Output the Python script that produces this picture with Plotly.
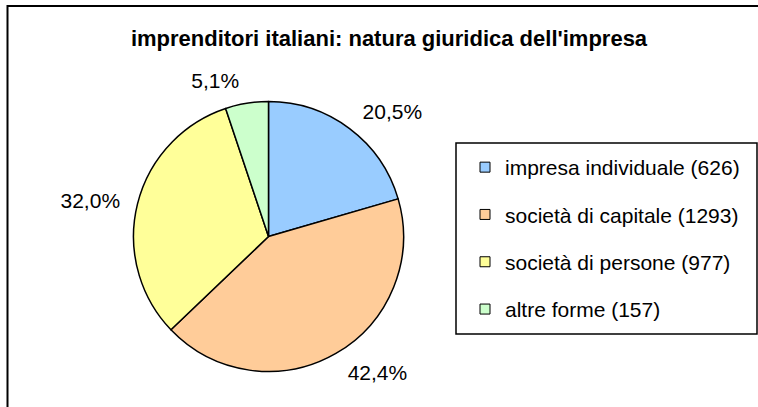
import plotly.graph_objects as go

# ---- data ----
categories = ["impresa individuale", "società di capitale", "società di persone", "altre forme"]
counts = [626, 1293, 977, 157]
colors = ["#99CCFF", "#FFCC99", "#FFFF99", "#CCFFCC"]
title_text = "imprenditori italiani: natura giuridica dell'impresa"

# ---- layout geometry (pixels) ----
W, H = 758, 407
cx, cy, r = 268.5, 236.5, 135
r_lab = 147
FONT = "Liberation Sans, Arial, sans-serif"


def dom(rad):
    return dict(x=[(cx - rad) / W, (cx + rad) / W],
                y=[1 - (cy + rad) / H, 1 - (cy - rad) / H])


fig = go.Figure()

# invisible pie only carrying the outside percentage labels
fig.add_trace(go.Pie(
    labels=categories, values=counts, sort=False, direction="clockwise", rotation=0,
    domain=dom(r_lab),
    marker=dict(colors=["rgba(0,0,0,0)"] * len(counts), line=dict(width=0)),
    textposition="outside", texttemplate="%{percent:.1%}",
    outsidetextfont=dict(family=FONT, size=21, color="black"),
    showlegend=False, hoverinfo="skip",
))

# visible pie
fig.add_trace(go.Pie(
    labels=categories, values=counts, sort=False, direction="clockwise", rotation=0,
    domain=dom(r),
    marker=dict(colors=colors, line=dict(color="black", width=1.5)),
    textinfo="none", showlegend=False, hoverinfo="skip",
))

# legend entries
for i, (cat, n, c) in enumerate(zip(categories, counts, colors)):
    fig.add_trace(go.Scatter(
        x=[None], y=[None], mode="markers", name=f"{cat} ({n})",
        legendgroup=str(i),
        marker=dict(symbol="square", size=10, color=c, line=dict(color="black", width=1)),
        hoverinfo="skip",
    ))

fig.update_layout(
    width=W, height=H, autosize=False,
    margin=dict(l=0, r=0, t=0, b=0),
    paper_bgcolor="white", plot_bgcolor="white",
    separators=",.",
    font=dict(family=FONT, color="black"),
    xaxis=dict(visible=False), yaxis=dict(visible=False),
    title=dict(text=title_text, x=389 / W, y=1 - 38 / H, xanchor="center", yanchor="middle",
               font=dict(family=FONT, size=22, color="black", weight="bold")),
    legend=dict(x=465 / W, y=1 - 147 / H, xanchor="left", yanchor="top",
                tracegroupgap=17, font=dict(family=FONT, size=21, color="black"),
                bgcolor="rgba(0,0,0,0)", borderwidth=0, itemclick=False, itemdoubleclick=False),
    shapes=[
        # outer chart frame
        dict(type="rect", xref="paper", yref="paper",
             x0=7.5 / W, x1=1.02, y0=-0.02, y1=1 - 6 / H,
             line=dict(color="black", width=2), fillcolor="rgba(0,0,0,0)", layer="above"),
        # legend box
        dict(type="rect", xref="paper", yref="paper",
             x0=456 / W, x1=757 / W, y0=1 - 334 / H, y1=1 - 143 / H,
             line=dict(color="black", width=1.5), fillcolor="rgba(0,0,0,0)"),
    ],
)

fig.write_html("out.html", config={"displayModeBar": False},
               post_script="document.body.style.margin='0';")
